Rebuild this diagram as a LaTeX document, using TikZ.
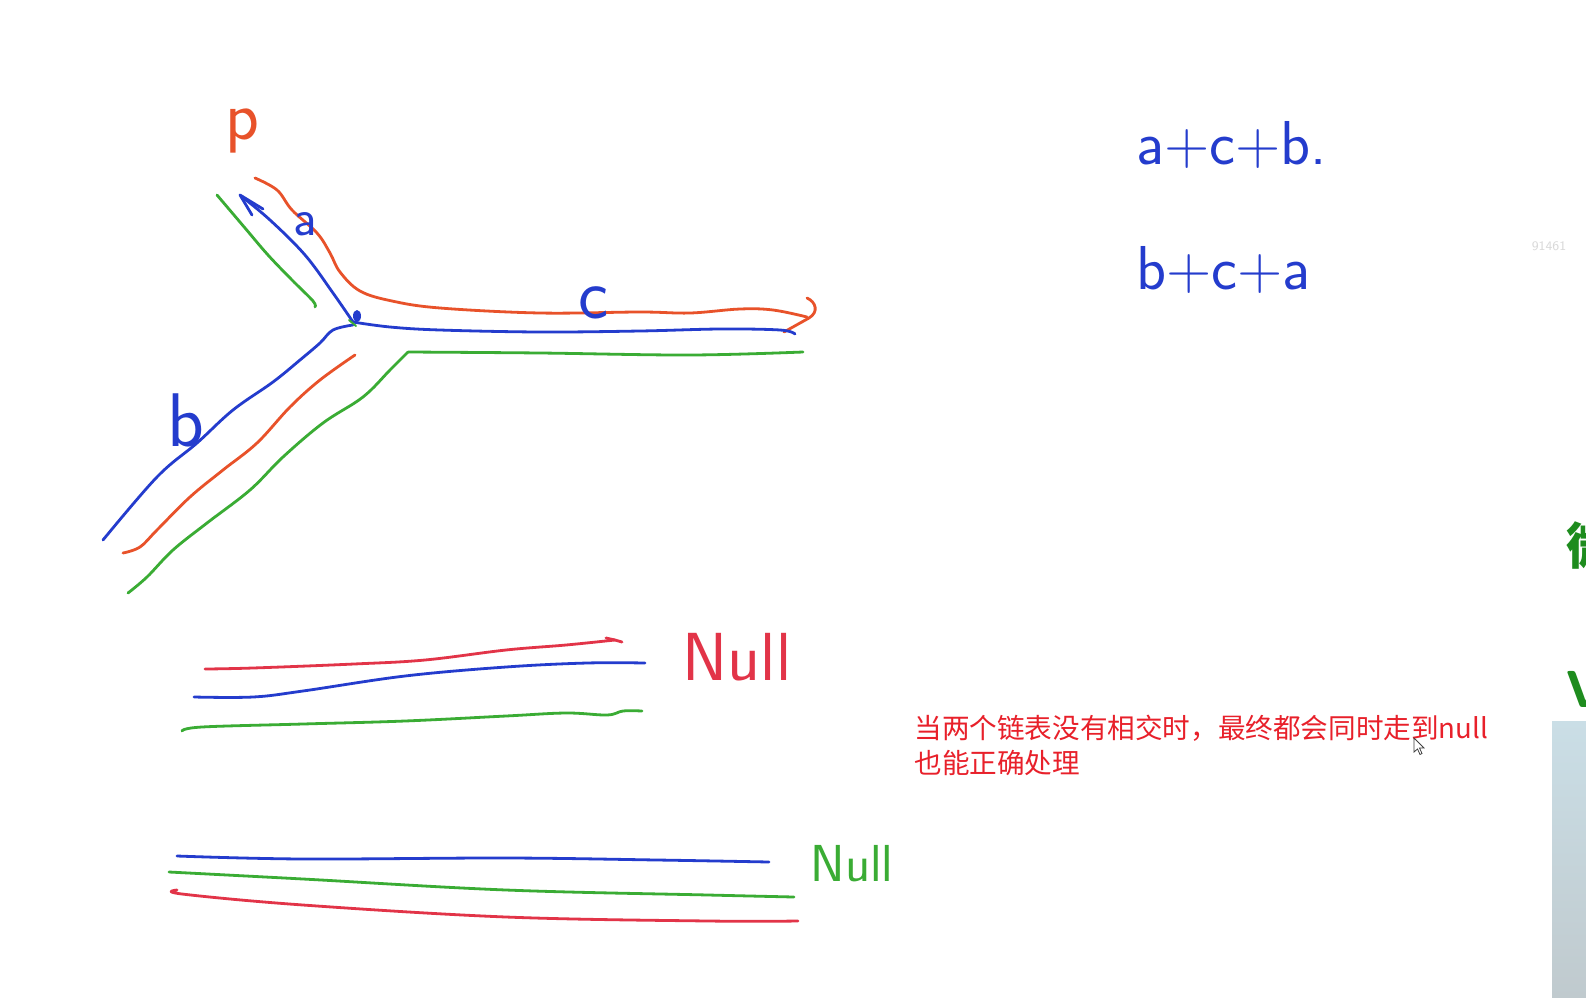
\documentclass[tikz,border=0pt]{standalone}
\usepackage{fontspec}
\newfontfamily\cjk{Noto Sans CJK SC}
\usetikzlibrary{shapes.geometric}
\definecolor{penred}{RGB}{232,82,42}
\definecolor{penred2}{RGB}{226,52,72}
\definecolor{penblue}{RGB}{36,60,205}
\definecolor{pengreen}{RGB}{58,172,52}
\definecolor{txtred}{RGB}{232,32,42}
\definecolor{dkgreen}{RGB}{30,140,30}
\begin{document}
\begin{tikzpicture}[x=0.5pt,y=-0.5pt,
  stroke/.style={line width=1.4pt, line cap=round, line join=round},
  hand/.style={font=\sffamily, inner sep=0pt},
  cjktext/.style={font=\cjk\fontsize{13.8}{17.5}\selectfont, text=txtred, anchor=west, inner sep=0pt}]
\useasboundingbox (0,0) rectangle (1586,997);
\fill[white] (0,0) rectangle (1586,997);

% ---------- upper figure ----------
% red path p -> a -> c (with arrow)
\draw[stroke, penred] plot[smooth, tension=0.6] coordinates {(255,178) (277,190) (292,210) (317,233) (330,253) (340,272) (360,291) (392,301) (440,308) (540,313) (640,312) (690,313) (740,309) (773,310) (807,317)};
\draw[stroke, penred] (807,298) .. controls (816,302) and (819,312) .. (809,318) -- (784,332);
% green upper-left short stroke
\draw[stroke, pengreen] plot[smooth, tension=0.6] coordinates {(217,195) (245,228) (268,255) (292,280) (313,301) (315,307)};
% blue stroke to the upper-left with arrow
\draw[stroke, penblue] plot[smooth, tension=0.6] coordinates {(353,322) (333,293) (305,255) (270,220) (241,196)};
\draw[stroke, penblue] (263,209) -- (240,195) -- (252,215);
% blue horizontal c
\draw[stroke, penblue] plot[smooth, tension=0.6] coordinates {(353,322) (390,327) (440,330) (540,332) (640,331) (720,329) (780,330) (795,334)};
% blue lower-left b
\draw[stroke, penblue] plot[smooth, tension=0.6] coordinates {(353,325) (333,330) (320,343) (300,360) (273,382) (233,410) (197,443) (157,477) (103,540)};
% red lower-left
\draw[stroke, penred] plot[smooth, tension=0.6] coordinates {(355,355) (320,380) (290,407) (257,443) (223,470) (190,497) (157,530) (140,547) (123,553)};
% green lower path
\draw[stroke, pengreen] plot[smooth, tension=0.6] coordinates {(128,593) (147,577) (173,550) (207,523) (250,490) (283,457) (323,423) (363,397) (390,370) (408,352)};
\draw[stroke, pengreen] plot[smooth, tension=0.6] coordinates {(408,352) (540,353) (690,355) (803,352)};
% junction marks
\fill[penblue] (357,316) ellipse (4 and 6);
\draw[stroke, pengreen, line width=1pt] (349,320) -- (356,326);

% labels of the figure
\node[hand, text=penred, font=\sffamily\fontsize{35}{35}\selectfont] (lp) at (242,131) {p};
\node[hand, text=penblue, font=\sffamily\fontsize{26}{26}\selectfont] (la) at (305,224) {a};
\node[hand, text=penblue, font=\sffamily\fontsize{36}{36}\selectfont] (lc) at (594,303) {c};
\node[hand, text=penblue, font=\sffamily\fontsize{38}{38}\selectfont] (lb) at (186,420) {b};

% formulas
\node[hand, text=penblue, font=\sffamily\fontsize{31}{31}\selectfont, anchor=west] (f1) at (1136,145) {a+c+b.};
\node[hand, text=penblue, font=\sffamily\fontsize{31}{31}\selectfont, anchor=west] (f2) at (1136,270) {b+c+a};

% watermark
\node[font=\sffamily\fontsize{6.5}{7}\selectfont, text=black!15, inner sep=0pt] (wm) at (1549,246) {91461};

% ---------- middle lines ----------
\draw[stroke, penred2] plot[smooth, tension=0.6] coordinates {(205,669) (253,668) (354,664) (425,660) (506,650) (566,645) (615,640)};
\draw[stroke, penred2] (606,638) -- (615,640) -- (622,642);
\draw[stroke, penblue] plot[smooth, tension=0.6] coordinates {(194,697) (253,697) (303,691) (405,676) (506,667) (587,663) (645,663)};
\draw[stroke, pengreen] plot[smooth, tension=0.6] coordinates {(182,731) (202,727) (303,724) (405,721) (506,716) (566,713) (607,715) (623,711) (642,711)};
\node[hand, text=penred2, font=\sffamily\fontsize{34}{34}\selectfont] (n1) at (737,657) {Null};

% ---------- bottom lines ----------
\draw[stroke, penblue] plot[smooth, tension=0.6] coordinates {(177,856) (303,859) (506,858) (657,860) (769,862)};
\draw[stroke, pengreen] plot[smooth, tension=0.6] coordinates {(169,872) (303,879) (506,890) (708,895) (794,897)};
\draw[stroke, penred2] plot[smooth, tension=0.6] coordinates {(177,890) (182,894) (303,905) (506,917) (708,921) (798,921)};
\node[hand, text=pengreen, font=\sffamily\fontsize{26}{26}\selectfont] (n2) at (852,864) {Null};

% ---------- note ----------
\node[cjktext] (t1) at (914,728) {当两个链表没有相交时，最终都会同时走到null};
\node[cjktext] (t2) at (914,763) {也能正确处理};
% cursor
\filldraw[fill=white, draw=black!75, line width=0.4pt] (1414,738) -- (1414,752) -- (1417.5,749) -- (1420,754.5) -- (1422,753.5) -- (1419.5,748) -- (1424,748) -- cycle;

% ---------- right edge (cut off, as in the reference) ----------
\begin{scope}
\clip (1500,0) rectangle (1586,997);
\node[font=\cjk\bfseries\fontsize{25}{25}\selectfont, text=dkgreen, anchor=west, inner sep=0pt] (e1) at (1566,546) {微};
\node[font=\sffamily\bfseries\fontsize{26}{26}\selectfont, text=dkgreen, anchor=west, inner sep=0pt] (e2) at (1566,689) {V};
\shade[top color={rgb,255:red,202;green,222;blue,230}, bottom color={rgb,255:red,192;green,202;blue,206}] (1552,721) rectangle (1586,997);
\end{scope}
\end{tikzpicture}
\end{document}
